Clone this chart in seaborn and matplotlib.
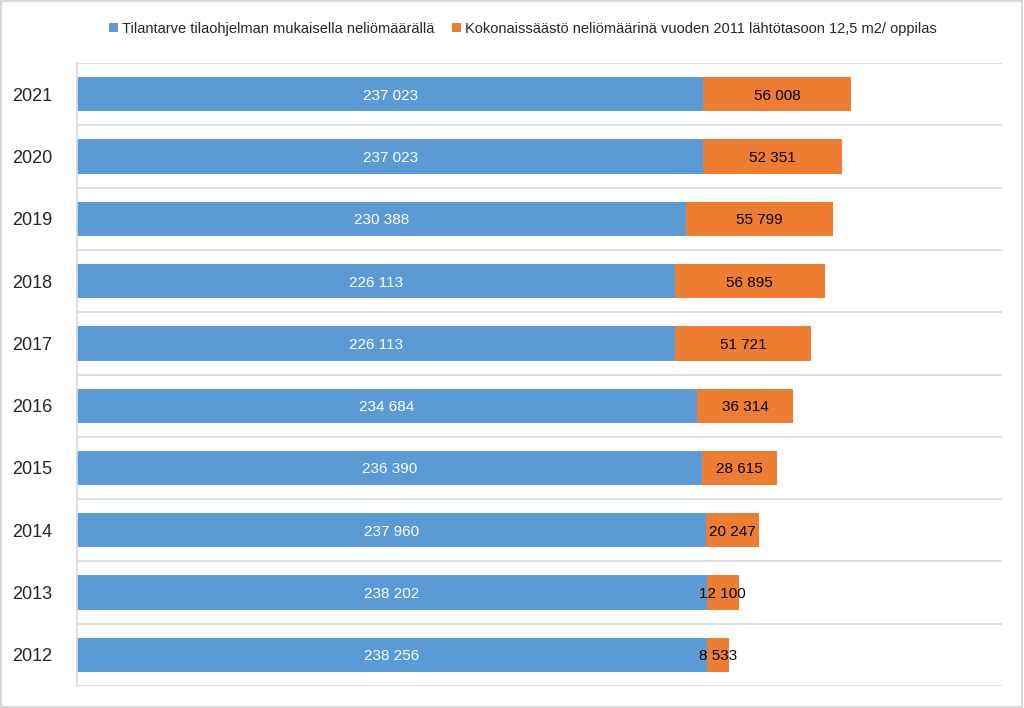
import pandas as pd
import matplotlib.pyplot as plt
import seaborn as sns
from matplotlib.patches import Rectangle

# Data
years = ['2021', '2020', '2019', '2018', '2017', '2016', '2015', '2014', '2013', '2012']
tilantarve = [237023, 237023, 230388, 226113, 226113, 234684, 236390, 237960, 238202, 238256]
saasto = [56008, 52351, 55799, 56895, 51721, 36314, 28615, 20247, 12100, 8533]

label_blue = 'Tilantarve tilaohjelman mukaisella neliömäärällä'
label_orange = 'Kokonaissäästö neliömäärinä vuoden 2011 lähtötasoon 12,5 m2/ oppilas'

blue = '#5B9BD5'
orange = '#ED7D31'

df = pd.DataFrame({'Vuosi': years, 'Tilantarve': tilantarve, 'Saasto': saasto})
df['Yhteensa'] = df['Tilantarve'] + df['Saasto']

sns.set_theme(style='white')
plt.rcParams['font.family'] = ['Liberation Sans Narrow', 'Liberation Sans', 'DejaVu Sans']

fig = plt.figure(figsize=(10.24, 7.08), dpi=100)
ax = fig.add_axes([0.0752, 0.031, 0.9033, 0.880])

# orange = total, blue drawn over it
sns.barplot(data=df, y='Vuosi', x='Yhteensa', order=years, color=orange, saturation=1,
            width=0.55, orient='h', ax=ax, label=label_orange, linewidth=0)
sns.barplot(data=df, y='Vuosi', x='Tilantarve', order=years, color=blue, saturation=1,
            width=0.55, orient='h', ax=ax, label=label_blue, linewidth=0)

def fmt(v):
    return f'{v:,}'.replace(',', ' ')

for i, row in df.iterrows():
    ax.text(row['Tilantarve'] / 2, i, fmt(row['Tilantarve']), ha='center', va='center_baseline',
            color='white', fontsize=11)
    ax.text(row['Tilantarve'] + row['Saasto'] / 2, i, fmt(row['Saasto']), ha='center',
            va='center_baseline', color='black', fontsize=11)

ax.set_xlim(0, 350000)
ax.set_ylim(len(years) - 0.5, -0.5)
for b in range(len(years) + 1):
    ax.axhline(b - 0.5, color='#D9D9D9', lw=1.2, zorder=0)

ax.set_xticks([])
ax.set_xlabel('')
ax.set_ylabel('')
ax.tick_params(axis='y', length=0, pad=18, labelsize=13)
for s in ['top', 'right', 'bottom']:
    ax.spines[s].set_visible(False)
ax.spines['left'].set_color('#D9D9D9')

handles, labels = ax.get_legend_handles_labels()
order = [labels.index(label_blue), labels.index(label_orange)]
ax.legend([handles[k] for k in order], [labels[k] for k in order],
          loc='center', bbox_to_anchor=(0.482, 1.055), ncol=2, frameon=False,
          fontsize=10.5, handlelength=0.6, handleheight=0.6, handletextpad=0.3, columnspacing=1.2)

fig.patches.append(Rectangle((0.001, 0.001), 0.997, 0.997, transform=fig.transFigure,
                             fill=False, edgecolor='#D9D9D9', lw=1.5))

fig.savefig('out.png', dpi=100)
